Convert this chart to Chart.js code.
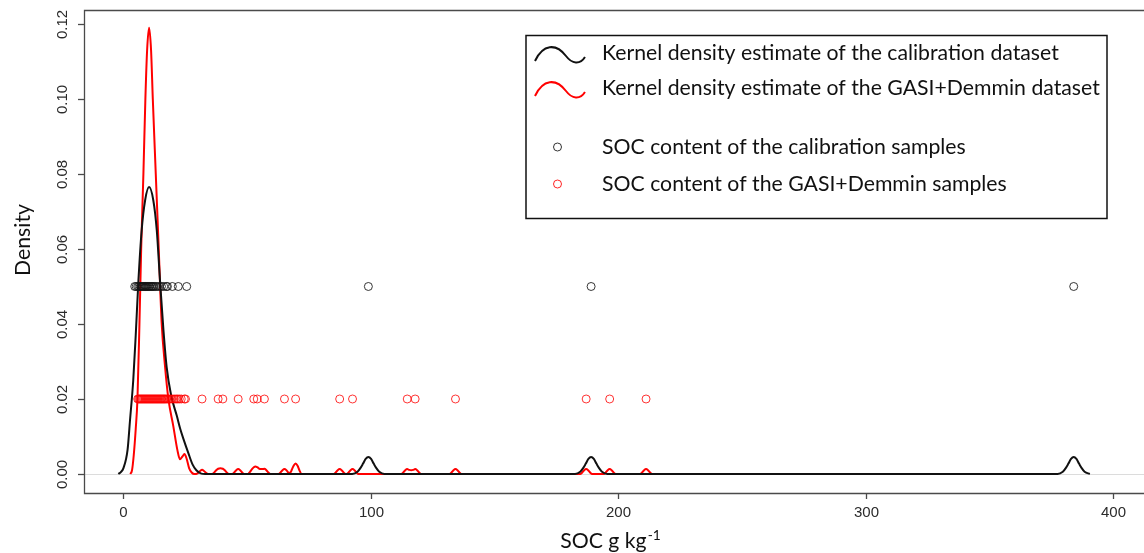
<!DOCTYPE html>
<html>
<head>
<meta charset="utf-8">
<script src="https://cdn.jsdelivr.net/npm/chart.js@4.4.0/dist/chart.umd.min.js"></script>
<style>
  html, body { margin: 0; padding: 0; background: #fff; }
  #wrap { width: 1144px; height: 553px; position: relative; }
</style>
</head>
<body>
<div id="wrap"><canvas id="kde"></canvas></div>
<script>
// kernel density of the calibration dataset
const calDensX = [-2, -1, 0, 1.7, 2.7, 4, 5, 6.1, 7.4, 8.8, 10.4, 12.1, 13.5, 14.8, 16.2, 17.5, 19.3, 21.6, 23, 24.2, 26.3, 28, 29.5, 31.5, 33,
  92.5, 94.6, 95.7, 96.8, 97.9, 99, 100.1, 101.2, 102.3, 103.4, 105.5,
  182.5, 184.6, 185.7, 186.8, 187.9, 189, 190.1, 191.2, 192.3, 193.4, 195.5,
  377.5, 379.6, 380.7, 381.8, 382.9, 384, 385.1, 386.2, 387.3, 388.4, 390.5];
const calDensY = [0, 0.0005, 0.0015, 0.0064, 0.0144, 0.025, 0.037, 0.0517, 0.065, 0.073, 0.0765, 0.073, 0.065, 0.0517, 0.0384, 0.0285, 0.021, 0.0155, 0.012, 0.0095, 0.0055, 0.0025, 0.001, 0.0001, 0,
  0, 0.0006, 0.0015, 0.0027, 0.004, 0.0045, 0.004, 0.0027, 0.0015, 0.0006, 0,
  0, 0.0006, 0.0015, 0.0027, 0.004, 0.0045, 0.004, 0.0027, 0.0015, 0.0006, 0,
  0, 0.0006, 0.0015, 0.0027, 0.004, 0.0045, 0.004, 0.0027, 0.0015, 0.0006, 0];

// kernel density of the GASI+Demmin dataset
const gasiDensX = [2.8, 3.5, 4.2, 5, 5.7, 6.5, 7.2, 8.1, 8.9, 9.6, 10.4, 11.2, 11.9, 13.1, 14.3, 15.5, 16.8, 18.2, 20.2, 21.8, 22.9, 23.8, 24.7, 25.6, 26.6, 27.6, 28.6,
  29.4, 30.2, 31, 31.8, 32.6, 33.4, 34.2,
  35.9, 36.7, 37.5, 38.3, 39.2, 40.2, 41, 41.8, 42.6,
  44, 44.8, 45.6, 46.4, 47.2, 48, 48.8,
  50.3, 51.1, 51.9, 52.7, 53.4, 54.1, 55.2, 56.2, 57, 57.8, 58.6, 59.4,
  62.7, 63.5, 64.3, 65.1, 65.9, 66.7, 67.4, 68.1, 68.8, 69.6, 70.4, 71.2, 72,
  85, 85.8, 86.6, 87.4, 88.2, 89, 89.8,
  90.2, 91, 91.8, 92.6, 93.4, 94.2, 95,
  112.3, 113.1, 113.9, 114.7, 115.5, 116.3, 117.1, 117.9, 118.7, 119.5, 120.3,
  131.8, 132.6, 133.4, 134.2, 135, 135.8, 136.6,
  184.6, 185.4, 186.2, 187, 187.8, 188.6, 189.4,
  194.1, 194.9, 195.7, 196.5, 197.3, 198.1, 198.9,
  208.8, 209.6, 210.4, 211.2, 212, 212.8, 213.6];
const gasiDensY = [0, 0.001, 0.005, 0.012, 0.02, 0.04, 0.06, 0.08, 0.1, 0.113, 0.119, 0.113, 0.1, 0.08, 0.06, 0.04, 0.029, 0.02, 0.0127, 0.0065, 0.0039, 0.0046, 0.0053, 0.004, 0.0015, 0.0004, 0,
  0, 0.0003, 0.0008, 0.0011, 0.0008, 0.0003, 0,
  0, 0.0004, 0.001, 0.0014, 0.0015, 0.0014, 0.001, 0.0004, 0,
  0, 0.0004, 0.001, 0.0013, 0.001, 0.0004, 0,
  0, 0.0005, 0.0012, 0.0018, 0.002, 0.0018, 0.0013, 0.0013, 0.0014, 0.001, 0.0004, 0,
  0, 0.0004, 0.001, 0.0013, 0.001, 0.0004, 0.0003, 0.0012, 0.0022, 0.0028, 0.0022, 0.0009, 0,
  0, 0.0004, 0.001, 0.0013, 0.001, 0.0004, 0,
  0, 0.0004, 0.001, 0.0013, 0.001, 0.0004, 0,
  0, 0.0004, 0.001, 0.0013, 0.0011, 0.001, 0.0011, 0.0013, 0.001, 0.0004, 0,
  0, 0.0004, 0.001, 0.0013, 0.001, 0.0004, 0,
  0, 0.0004, 0.001, 0.0013, 0.001, 0.0004, 0,
  0, 0.0004, 0.001, 0.0013, 0.001, 0.0004, 0,
  0, 0.0004, 0.001, 0.0013, 0.001, 0.0004, 0];

// SOC of the samples (g/kg), drawn as rows of circles
const calSamples = [4.6, 5.2, 5.8, 6.3, 6.8, 7.2, 7.6, 8.0, 8.4, 8.8, 9.1, 9.5, 9.9, 10.3, 10.7, 11.2, 11.6, 12.0, 12.5, 13.1, 13.8, 14.6, 15.4, 16.3, 17.4, 17.8, 19.8, 22.2, 25.6, 99.0, 189.0, 384.0];
const gasiSamples = [5.8, 6.2, 6.6, 7.0, 7.4, 7.8, 8.2, 8.6, 9.0, 9.4, 9.8, 10.2, 10.6, 11.0, 11.4, 11.8, 12.2, 12.6, 13.0, 13.4, 13.8, 14.2, 14.6, 15.0, 15.4, 15.8, 16.2, 16.6, 17.0, 17.5, 18.0, 18.6, 19.2, 19.9, 20.6, 21.3, 21.9, 22.6, 23.4, 24.6, 25.1,
  31.8, 38.3, 40.2, 46.4, 52.7, 54.1, 57.0, 65.1, 69.6, 87.4, 92.6, 114.7, 117.9, 134.2, 187.0, 196.5, 211.2];
const calRowY = 0.05;
const gasiRowY = 0.02;

const xTicks = [0, 100, 200, 300, 400];
const yTicks = [0, 0.02, 0.04, 0.06, 0.08, 0.10, 0.12];

const legendLines = ['Kernel density estimate of the calibration dataset', 'Kernel density estimate of the GASI+Demmin dataset'];
const legendPoints = ['SOC content of the calibration samples', 'SOC content of the GASI+Demmin samples'];

const toXY = (xs, ys) => xs.map((x, i) => ({ x: x, y: ys[i] }));
const toRow = (xs, y) => xs.map(x => ({ x: x, y: y }));

const TXT_FONT = 'Lato, "Open Sans", sans-serif';

// R-like axes, box, titles and legend
const rAxes = {
  id: 'rAxes',
  beforeDatasetsDraw(chart) {
    const { ctx, chartArea: a, scales: { y } } = chart;
    const y0 = Math.round(y.getPixelForValue(0)) + 0.5;
    ctx.save();
    ctx.strokeStyle = '#dcdcdc';
    ctx.lineWidth = 1;
    ctx.beginPath();
    ctx.moveTo(a.left, y0);
    ctx.lineTo(a.right, y0);
    ctx.stroke();
    ctx.restore();
  },
  afterDraw(chart) {
    const { ctx, chartArea: a, scales: { x, y } } = chart;
    ctx.save();
    // box (right side is off the picture)
    ctx.strokeStyle = '#4a4a4a';
    ctx.lineWidth = 1.3;
    ctx.beginPath();
    ctx.moveTo(a.right, a.top + 0.5);
    ctx.lineTo(a.left + 0.5, a.top + 0.5);
    ctx.lineTo(a.left + 0.5, a.bottom + 0.5);
    ctx.lineTo(a.right, a.bottom + 0.5);
    ctx.stroke();

    // ticks
    ctx.fillStyle = '#2b2b2b';
    ctx.font = '15px "Liberation Sans", Arial, sans-serif';
    ctx.textAlign = 'center';
    ctx.textBaseline = 'alphabetic';
    xTicks.forEach(v => {
      const px = Math.round(x.getPixelForValue(v)) + 0.5;
      ctx.beginPath();
      ctx.moveTo(px, a.bottom);
      ctx.lineTo(px, a.bottom + 6);
      ctx.stroke();
      ctx.fillText(String(v), px, a.bottom + 24);
    });
    yTicks.forEach(v => {
      const py = Math.round(y.getPixelForValue(v)) + 0.5;
      ctx.beginPath();
      ctx.moveTo(a.left, py);
      ctx.lineTo(a.left - 6, py);
      ctx.stroke();
      ctx.save();
      ctx.translate(a.left - 14, py);
      ctx.rotate(-Math.PI / 2);
      ctx.textBaseline = 'bottom';
      ctx.fillText(v.toFixed(2), 0, 0);
      ctx.restore();
    });

    // legend text size fitted to the reference width
    ctx.font = '20px ' + TXT_FONT;
    const fs = 20 * 457 / ctx.measureText(legendLines[0]).width;
    const font = fs.toFixed(2) + 'px ' + TXT_FONT;

    // axis titles
    ctx.fillStyle = '#111';
    ctx.font = font;
    ctx.save();
    ctx.translate(30, 240);
    ctx.rotate(-Math.PI / 2);
    ctx.textAlign = 'center';
    ctx.fillText('Density', 0, 0);
    ctx.restore();
    const main = 'SOC g kg', sup = '-1';
    const wMain = ctx.measureText(main).width;
    ctx.font = (fs * 0.65).toFixed(2) + 'px ' + TXT_FONT;
    const wSup = ctx.measureText(sup).width;
    const sx = 610 - (wMain + wSup) / 2;
    ctx.textAlign = 'left';
    ctx.fillText(sup, sx + wMain + 1, 540);
    ctx.font = font;
    ctx.fillText(main, sx, 548);

    // legend
    ctx.strokeStyle = '#111';
    ctx.lineWidth = 1.5;
    ctx.strokeRect(526, 35.5, 581, 183);
    const rows = [53, 88, 147, 184];
    ctx.font = font;
    ctx.textBaseline = 'middle';
    ctx.textAlign = 'left';
    ['#111', '#ff0000'].forEach((c, i) => {
      const yc = rows[i];
      ctx.strokeStyle = c;
      ctx.lineWidth = 2;
      ctx.beginPath();
      ctx.moveTo(535, yc + 8);
      ctx.bezierCurveTo(543, yc - 9, 556, yc - 10, 566, yc + 3);
      ctx.bezierCurveTo(572, yc + 11, 580, yc + 12, 585, yc + 4);
      ctx.stroke();
      ctx.fillStyle = '#111';
      ctx.fillText(legendLines[i], 602, yc);
    });
    ['#333', 'rgba(255,0,0,0.85)'].forEach((c, i) => {
      const yc = rows[i + 2];
      ctx.strokeStyle = c;
      ctx.lineWidth = 1;
      ctx.beginPath();
      ctx.arc(557.5, yc, 4, 0, Math.PI * 2);
      ctx.stroke();
      ctx.fillStyle = '#111';
      ctx.fillText(legendPoints[i], 602, yc);
    });
    ctx.restore();
  }
};

new Chart(document.getElementById('kde'), {
  type: 'scatter',
  data: {
    datasets: [
      {
        type: 'line',
        label: 'GASI+Demmin KDE',
        data: toXY(gasiDensX, gasiDensY),
        borderColor: '#ff0000',
        borderWidth: 2,
        pointRadius: 0,
        fill: false,
        cubicInterpolationMode: 'monotone',
        order: 4
      },
      {
        type: 'line',
        label: 'Calibration KDE',
        data: toXY(calDensX, calDensY),
        borderColor: '#111',
        borderWidth: 2,
        pointRadius: 0,
        fill: false,
        cubicInterpolationMode: 'monotone',
        order: 3
      },
      {
        label: 'Calibration samples',
        data: toRow(calSamples, calRowY),
        pointStyle: 'circle',
        pointRadius: 4,
        pointBorderWidth: 1,
        borderColor: 'rgba(20,20,20,0.85)',
        backgroundColor: 'rgba(0,0,0,0)',
        order: 2
      },
      {
        label: 'GASI+Demmin samples',
        data: toRow(gasiSamples, gasiRowY),
        pointStyle: 'circle',
        pointRadius: 4,
        pointBorderWidth: 1,
        borderColor: 'rgba(255,0,0,0.8)',
        backgroundColor: 'rgba(0,0,0,0)',
        order: 1
      }
    ]
  },
  options: {
    responsive: true,
    maintainAspectRatio: false,
    animation: false,
    devicePixelRatio: 1,
    layout: { autoPadding: false, padding: { left: 84, top: 10, right: 0, bottom: 60 } },
    plugins: { legend: { display: false }, tooltip: { enabled: false } },
    scales: {
      x: { type: 'linear', min: -15.9, max: 412.4, display: false },
      y: { type: 'linear', min: -0.00507, max: 0.12373, display: false }
    }
  },
  plugins: [rAxes]
});
</script>
</body>
</html>
